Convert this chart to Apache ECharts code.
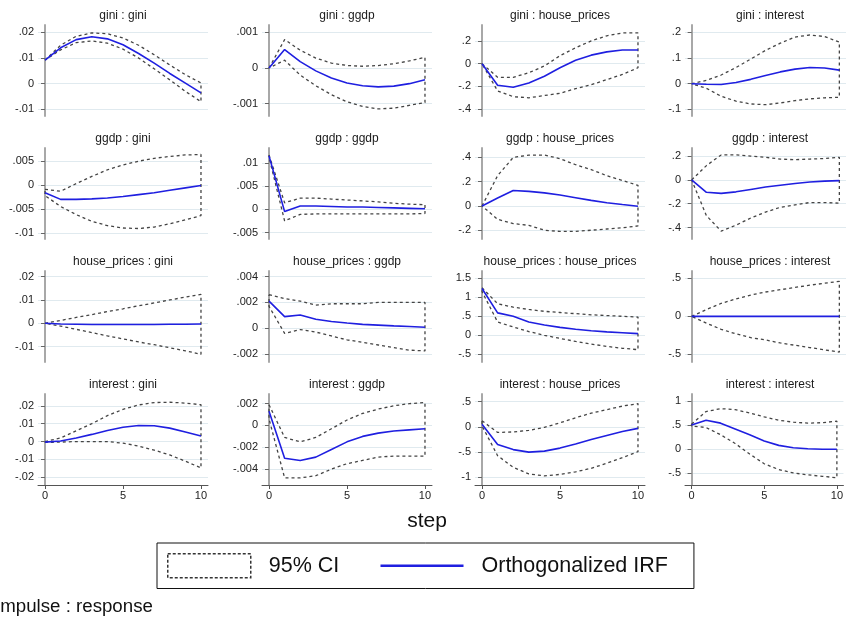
<!DOCTYPE html>
<html>
<head>
<meta charset="UTF-8">
<title>IRF</title>
<script src="https://cdn.jsdelivr.net/npm/echarts@6/dist/echarts.min.js"></script>
<style>
html, body { margin: 0; padding: 0; background: #fff; }
#chart { width: 846px; height: 619px; }
</style>
</head>
<body>
<div id="chart"></div>
<script>
// horizon steps
var steps = [0, 1, 2, 3, 4, 5, 6, 7, 8, 9, 10];

// impulse : response, row by row
var panels = [
    'gini : gini', 'gini : ggdp', 'gini : house_prices', 'gini : interest',
    'ggdp : gini', 'ggdp : ggdp', 'ggdp : house_prices', 'ggdp : interest',
    'house_prices : gini', 'house_prices : ggdp', 'house_prices : house_prices', 'house_prices : interest',
    'interest : gini', 'interest : ggdp', 'interest : house_prices', 'interest : interest'
];

// orthogonalized IRF
var irf = [
    [.0092, .0140, .0172, .0183, .0175, .0152, .0118, .0080, .0040, .0002, -.0036],
    [0, .00052, .00018, -.00008, -.00028, -.00042, -.00050, -.00053, -.00051, -.00044, -.00033],
    [0, -.19, -.207, -.17, -.11, -.036, .03, .075, .104, .12, .12],
    [0, -.002, -.003, .005, .017, .032, .046, .057, .063, .061, .053],
    [-.0016, -.0030, -.0030, -.0029, -.0027, -.0024, -.0020, -.0016, -.0011, -.0006, -.0001],
    [.0115, -.0005, .0007, .0007, .0006, .0005, .0005, .0004, .0003, .0002, .0001],
    [0, .065, .128, .12, .108, .09, .068, .046, .027, .012, -.002],
    [0, -.104, -.113, -.10, -.08, -.06, -.045, -.03, -.018, -.01, -.006],
    [0, -.0003, -.0004, -.0005, -.0005, -.0005, -.0005, -.0005, -.0004, -.0004, -.0003],
    [.0021, .0009, .00103, .0007, .00052, .0004, .0003, .00024, .00018, .00013, .00008],
    [1.23, .59, .50, .35, .27, .21, .16, .12, .09, .07, .045],
    [0, 0, 0, 0, 0, 0, 0, 0, 0, 0, 0],
    [-.0003, .0003, .002, .004, .0062, .0080, .0090, .0088, .0075, .0053, .0031],
    [.0013, -.0030, -.0032, -.0029, -.0022, -.0015, -.0010, -.0007, -.0005, -.0004, -.0003],
    [.05, -.35, -.45, -.50, -.48, -.42, -.34, -.25, -.17, -.09, -.03],
    [.50, .60, .54, .42, .30, .17, .08, .03, .01, 0, 0]
];

// 95% CI upper bound
var ciHigh = [
    [.0092, .0150, .0185, .0198, .0195, .0178, .0150, .0113, .0073, .0035, .0003],
    [0, .00080, .00050, .00028, .00014, .00007, .00005, .00007, .00012, .00020, .00030],
    [0, -.12, -.12, -.08, -.02, .07, .14, .20, .245, .27, .27],
    [0, .013, .034, .063, .096, .13, .158, .182, .19, .184, .162],
    [-.0009, -.0013, .0003, .0018, .0032, .0042, .0050, .0056, .0060, .0063, .0064],
    [.0117, .0014, .0024, .0024, .0022, .0020, .0018, .0016, .0013, .0011, .0010],
    [0, .25, .40, .42, .42, .39, .34, .30, .25, .21, .17],
    [0, .12, .21, .21, .20, .19, .175, .17, .175, .18, .19],
    [0, .0012, .0025, .0037, .0050, .0062, .0075, .0087, .0100, .0112, .0124],
    [.0026, .0023, .0021, .0018, .0019, .0019, .0019, .0020, .0020, .0020, .0020],
    [1.25, .83, .74, .68, .63, .60, .57, .54, .52, .50, .48],
    [0, .09, .17, .23, .28, .32, .35, .38, .41, .435, .46],
    [0, .002, .006, .010, .0145, .018, .0205, .0218, .0220, .0215, .0206],
    [.0019, -.0011, -.0015, -.0011, -.0003, .0005, .0011, .0015, .0018, .0020, .0021],
    [.12, -.11, -.10, -.07, -.01, .08, .18, .27, .34, .41, .46],
    [.52, .78, .84, .82, .75, .67, .60, .56, .54, .55, .58]
];

// 95% CI lower bound
var ciLow = [
    [.0092, .0132, .0160, .0167, .0158, .0135, .0100, .0058, .0015, -.0030, -.0070],
    [0, .00022, -.00020, -.00050, -.00075, -.00095, -.00108, -.00115, -.00113, -.00105, -.00097],
    [0, -.24, -.29, -.30, -.28, -.26, -.22, -.185, -.14, -.095, -.036],
    [0, -.018, -.049, -.068, -.079, -.082, -.075, -.066, -.059, -.055, -.053],
    [-.0022, -.0045, -.0062, -.0076, -.0085, -.0090, -.0091, -.0088, -.0081, -.0073, -.0064],
    [.0112, -.0025, -.0011, -.0010, -.0010, -.0010, -.0010, -.0010, -.0010, -.0010, -.0009],
    [0, -.11, -.145, -.16, -.20, -.21, -.21, -.20, -.19, -.18, -.165],
    [0, -.30, -.43, -.38, -.32, -.27, -.23, -.21, -.19, -.19, -.195],
    [0, -.0012, -.0026, -.0040, -.0054, -.0067, -.0080, -.0092, -.0105, -.0118, -.0133],
    [.0017, -.0004, -.0001, -.0003, -.0006, -.0009, -.0011, -.0013, -.0015, -.0017, -.00176],
    [1.15, .35, .22, .10, 0, -.08, -.16, -.23, -.29, -.34, -.376],
    [0, -.09, -.17, -.23, -.28, -.31, -.35, -.38, -.41, -.44, -.47],
    [-.0005, -.0003, 0, 0, 0, -.0009, -.0025, -.0048, -.0075, -.0110, -.0147],
    [.0006, -.0048, -.0048, -.0046, -.0040, -.0035, -.0032, -.0029, -.0028, -.0028, -.0028],
    [.02, -.57, -.80, -.93, -.97, -.94, -.89, -.82, -.72, -.61, -.49],
    [.48, .45, .30, .12, -.10, -.30, -.42, -.49, -.53, -.56, -.59]
];

// y tick values per panel
var yTicks = [
    [-.01, 0, .01, .02], [-.001, 0, .001], [-.4, -.2, 0, .2], [-.1, 0, .1, .2],
    [-.01, -.005, 0, .005], [-.005, 0, .005, .01], [-.2, 0, .2, .4], [-.4, -.2, 0, .2],
    [-.01, 0, .01, .02], [-.002, 0, .002, .004], [-.5, 0, .5, 1, 1.5], [-.5, 0, .5],
    [-.02, -.01, 0, .01, .02], [-.004, -.002, 0, .002], [-1, -.5, 0, .5], [-.5, 0, .5, 1]
];

// y axis extent per panel [min, max]
var yRange = [
    [-.0126, .0229], [-.00135, .00121], [-.46, .34], [-.126, .229],
    [-.0113, .00776], [-.0064, .0132], [-.2725, .478], [-.496, .268],
    [-.0166, .0224], [-.00262, .00444], [-.70, 1.69], [-.60, .596],
    [-.0243, .0266], [-.00545, .00288], [-1.15, .65], [-.74, 1.143]
];

var xTicks = [0, 5, 10];

var FONT = 'Liberation Sans';
var colLeft = [38, 262, 475, 685];
var rowTop = [25, 148, 271, 394];
var plotW = 170, plotH = 91;

function stataLabel(v) {
    var s = String(+Number(v).toFixed(5));
    return s.replace(/^(-?)0\./, '$1.');
}

var chart = echarts.init(document.getElementById('chart'));

var grids = [], xAxes = [], yAxes = [], titles = [], series = [];

panels.forEach(function (name, i) {
    var r = Math.floor(i / 4), c = i % 4;
    var bottomRow = r === 3;
    grids.push({ left: colLeft[c], top: rowTop[r], width: plotW, height: plotH });
    titles.push({
        text: name, left: colLeft[c] + plotW / 2, top: rowTop[r] - 15, textAlign: 'center',
        padding: 0,
        textStyle: { fontFamily: FONT, fontSize: 12, fontWeight: 'normal', color: '#1a1a1a' }
    });
    xAxes.push({
        type: 'value', gridIndex: i, min: -0.45, max: 10.45,
        axisLine: { show: bottomRow, onZero: false, lineStyle: { color: '#555', width: 1 } },
        axisTick: { show: bottomRow, customValues: xTicks, length: 4, lineStyle: { color: '#555' } },
        axisLabel: {
            show: bottomRow, customValues: xTicks, margin: 5,
            fontFamily: FONT, fontSize: 11, color: '#222'
        },
        splitLine: { show: false }
    });
    yAxes.push({
        type: 'value', gridIndex: i, min: yRange[i][0], max: yRange[i][1],
        axisLine: { show: true, lineStyle: { color: '#a8a8a8', width: 2 } },
        axisTick: { show: true, customValues: yTicks[i], length: 4, lineStyle: { color: '#666' } },
        axisLabel: {
            customValues: yTicks[i], margin: 4,
            fontFamily: FONT, fontSize: 11, color: '#222',
            formatter: stataLabel
        },
        splitLine: { show: true, lineStyle: { color: '#e0eaef', width: 1 } }
    });

    // CI outline: upper bound forward, lower bound back
    var band = [];
    steps.forEach(function (s, k) { band.push([s, ciHigh[i][k]]); });
    for (var k = steps.length - 1; k >= 0; k--) band.push([steps[k], ciLow[i][k]]);
    band.push([steps[0], ciHigh[i][0]]);

    series.push({
        name: '95% CI', type: 'line', xAxisIndex: i, yAxisIndex: i,
        data: band, symbol: 'none', silent: true,
        lineStyle: { color: '#444', width: 1.3, type: [3, 3] },
        itemStyle: { color: '#444' }
    });
    series.push({
        name: 'Orthogonalized IRF', type: 'line', xAxisIndex: i, yAxisIndex: i,
        data: steps.map(function (s, k) { return [s, irf[i][k]]; }),
        symbol: 'none', silent: true,
        lineStyle: { color: '#1f1fe0', width: 1.6 },
        itemStyle: { color: '#1f1fe0' }
    });
});

titles.push({
    text: 'step', left: 427, top: 511, textAlign: 'center', padding: 0,
    textStyle: { fontFamily: FONT, fontSize: 21, fontWeight: 'normal', color: '#111' }
});
titles.push({
    text: 'Impulse : response', left: -5, top: 597, padding: 0,
    textStyle: { fontFamily: FONT, fontSize: 18.7, fontWeight: 'normal', color: '#111' }
});

var option = {
    animation: false,
    backgroundColor: '#fff',
    title: titles,
    grid: grids,
    xAxis: xAxes,
    yAxis: yAxes,
    legend: {
        left: 157, top: 543,
        padding: [10, 26, 10, 10],
        borderColor: '#111', borderWidth: 1,
        itemWidth: 83, itemHeight: 24, itemGap: 40,
        textStyle: { fontFamily: FONT, fontSize: 21.5, color: '#111', padding: [0, 0, 0, 13] },
        data: [
            { name: '95% CI', icon: 'rect',
              itemStyle: { color: 'rgba(0,0,0,0)', borderColor: '#333', borderWidth: 1.5, borderType: [3, 2] } },
            { name: 'Orthogonalized IRF',
              itemStyle: { opacity: 0 },
              lineStyle: { color: '#1f1fe0', width: 2.5 } }
        ]
    },
    series: series
};

chart.setOption(option);
</script>
</body>
</html>
